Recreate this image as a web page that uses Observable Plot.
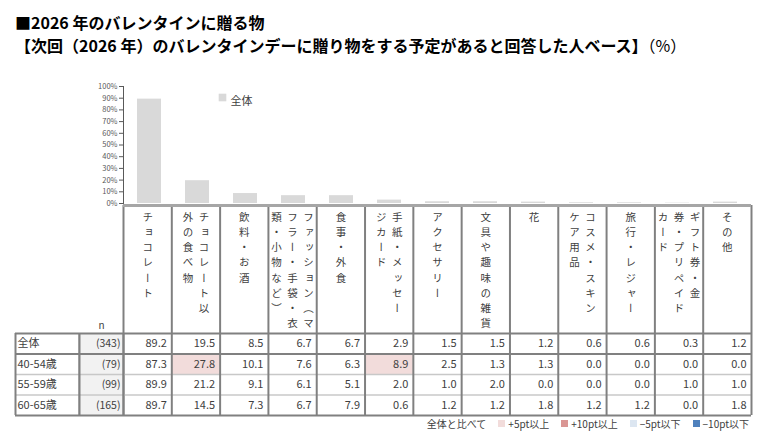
<!DOCTYPE html>
<html><head><meta charset="utf-8">
<script src="https://cdn.jsdelivr.net/npm/d3@7"></script>
<script src="https://cdn.jsdelivr.net/npm/@observablehq/plot@0.6"></script>
<style>
body{margin:0;background:#fff;font-family:"Noto Sans CJK JP","Noto Sans",sans-serif;}
#wrap{position:relative;width:763px;height:438px;overflow:hidden;background:#fff;}
.ttl{position:absolute;left:15px;font-weight:bold;font-size:16px;line-height:16px;color:#000;white-space:nowrap;}
.ttl .pct{font-weight:normal;}
.abs{position:absolute;}
.abs svg{overflow:visible;display:block;}
#legend{position:absolute;top:416px;right:14px;font-size:10px;color:#404040;display:flex;align-items:center;white-space:nowrap;}
#legend .sw{display:inline-block;width:7px;height:7px;margin:0 3px 0 12px;}
.vtext{writing-mode:vertical-rl;letter-spacing:4.7px;}
</style></head><body>
<div id="wrap">
  <div class="ttl" style="top:14px">■2026 年のバレンタインに贈る物</div>
  <div class="ttl" style="top:37px">【次回（2026 年）のバレンタインデーに贈り物をする予定があると回答した人ベース】<span class="pct">（%）</span></div>
  <div class="abs" id="bars" style="left:0;top:78px"></div>
  <div class="abs" id="header" style="left:0;top:204px"></div>
  <div class="abs" id="bodyLabel" style="left:0;top:332px"></div>
  <div class="abs" id="bodyN" style="left:79px;top:332px"></div>
  <div class="abs" id="bodyVal" style="left:123px;top:332px"></div>
  <div id="legend"></div>
</div>
<script>
// ---- data ----
const categories = ["チョコレート","チョコレート以外の食べ物","飲料・お酒","ファッション（マフラー・手袋・衣類・小物など）","食事・外食","手紙・メッセージカード","アクセサリー","文具や趣味の雑貨","花","コスメ・スキンケア用品","旅行・レジャー","ギフト券・金券・プリペイドカード","その他"];
const headerLines = [["チョコレート"],["チョコレート以","外の食べ物"],["飲料・お酒"],["ファッション（マ","フラー・手袋・衣","類・小物など）"],["食事・外食"],["手紙・メッセー","ジカード"],["アクセサリー"],["文具や趣味の雑貨"],["花"],["コスメ・スキン","ケア用品"],["旅行・レジャー"],["ギフト券・金","券・プリペイド","カード"],["その他"]];
const rows = ["全体","40-54歳","55-59歳","60-65歳"];
const nValues = [343, 79, 99, 165];
const valuesAll  = [89.2,19.5,8.5,6.7,6.7,2.9,1.5,1.5,1.2,0.6,0.6,0.3,1.2];
const values4054 = [87.3,27.8,10.1,7.6,6.3,8.9,2.5,1.3,1.3,0.0,0.0,0.0,0.0];
const values5559 = [89.9,21.2,9.1,6.1,5.1,2.0,1.0,2.0,0.0,0.0,0.0,1.0,1.0];
const values6065 = [89.7,14.5,7.3,6.7,7.9,0.6,1.2,1.2,1.8,1.2,1.2,0.0,1.8];
const yTicks = [0,10,20,30,40,50,60,70,80,90,100];
const seriesName = "全体";
const levelKeys = ["+5","+10","-5","-10"];
const levelLabels = ["+5pt以上","+10pt以上","−5pt以下","−10pt以下"];
const levelColors = ["#f2dcdb","#da9694","#dce6f1","#4f81bd"];
const highlights = [
  {row:"40-54歳", cat:"チョコレート以外の食べ物", level:"+5"},
  {row:"40-54歳", cat:"手紙・メッセージカード", level:"+5"}
];
const legendPrefix = "全体と比べて";

const FONT = '"Noto Sans CJK JP","Noto Sans",sans-serif';
const TXT = "#404040";
const DARK = "#808080";
const LIGHT = "#c8c8c8";

// ---- bar chart ----
const barData = categories.map((c,i)=>({cat:c, value:valuesAll[i]}));
const bars = Plot.plot({
  width:763, height:128, marginTop:8, marginBottom:3, marginLeft:123, marginRight:12,
  style:{fontFamily:FONT, fontSize:"7.5px", color:"#595959", background:"transparent"},
  x:{type:"band", domain:categories, paddingInner:0.5, paddingOuter:0.25, axis:null},
  y:{domain:[0,100], ticks:yTicks, tickFormat:d=>d+"%", tickSize:4, tickPadding:2, label:null, line:true},
  marks:[
    Plot.barY(barData, {x:"cat", y:"value", fill:"#d9d9d9"}),
    Plot.dot([seriesName], {frameAnchor:"top-left", dx:99, dy:11, symbol:"square", r:4.3, fill:"#d9d9d9", stroke:null}),
    Plot.text([seriesName], {frameAnchor:"top-left", dx:107, dy:11, text:d=>d, textAnchor:"start", fontSize:11, fill:TXT})
  ]
});
document.getElementById("bars").append(bars);

// ---- header row ----
const headerData = [];
headerLines.forEach((lines,i)=>lines.forEach((t,j)=>headerData.push({col:i, text:t, n:lines.length, j})));
const headerSet = new Set(headerData.map(d=>d.text));
const combos = Array.from(new Set(headerData.map(d=>d.n+"-"+d.j)));
const headerTextMarks = combos.map(k=>{
  const [n,j] = k.split("-").map(Number);
  return Plot.text(headerData.filter(d=>d.n===n && d.j===j), {
    x:d=>d.col+0.5, y:0, text:"text", dx:((n-1)/2 - j)*16, dy:6,
    textAnchor:"start", lineAnchor:"bottom", fontSize:10.5, fill:TXT
  });
});
const header = Plot.plot({
  width:763, height:130, marginTop:1, marginBottom:1, marginLeft:123, marginRight:12,
  style:{fontFamily:FONT, background:"transparent"},
  x:{domain:[0,categories.length], axis:null},
  y:{domain:[0,1], reverse:true, axis:null},
  marks:[
    Plot.ruleX(d3.range(categories.length+1), {x:d=>d, y1:0, y2:1, stroke:DARK, strokeWidth:2}),
    Plot.ruleY([0], {stroke:"#a6a6a6", strokeWidth:3}),
    ...headerTextMarks,
    Plot.text(["n"], {frameAnchor:"bottom-left", dx:-22, dy:-5, text:d=>d, textAnchor:"middle", fontSize:10, fill:TXT})
  ]
});
d3.select(header).selectAll("text")
  .filter(function(){ return headerSet.has(this.textContent); })
  .classed("vtext", true)
  .attr("writing-mode","tb-rl")
  .style("writing-mode","vertical-rl")
  .style("letter-spacing","4.7px");
document.getElementById("header").append(header);

// ---- table body ----
const rowIdx = r=>rows.indexOf(r);
const bounds = d3.range(rows.length+1);
const darkBounds = bounds.filter(b=>b===0 || b===1 || b===rows.length);
const lightBounds = bounds.filter(b=>!darkBounds.includes(b));
function hRules(){
  return [
    Plot.ruleY(lightBounds, {y:d=>d, stroke:LIGHT, strokeWidth:1.5}),
    Plot.ruleY(darkBounds, {y:d=>d, stroke:DARK, strokeWidth:2})
  ];
}
const bodyBase = {height:84, marginTop:1, marginBottom:1, style:{fontFamily:FONT, fontSize:"11px", background:"transparent"}};

const bodyLabel = Plot.plot({
  ...bodyBase, width:79, marginLeft:15, marginRight:0,
  x:{domain:[0,1], axis:null}, y:{domain:[0,rows.length], reverse:true, axis:null},
  marks:[
    Plot.text(rows, {x:0, y:(d,i)=>i+0.5, text:d=>d, dx:2, textAnchor:"start", fill:TXT, fontSize:11}),
    ...hRules(),
    Plot.ruleX([0,1], {x:d=>d, y1:0, y2:rows.length, stroke:DARK, strokeWidth:2})
  ]
});
document.getElementById("bodyLabel").append(bodyLabel);

const bodyN = Plot.plot({
  ...bodyBase, width:44, marginLeft:0, marginRight:0,
  x:{domain:[0,1], axis:null}, y:{domain:[0,rows.length], reverse:true, axis:null},
  marks:[
    Plot.rect(rows, {x1:0, x2:1, y1:(d,i)=>i, y2:(d,i)=>i+1, fill:"#f2f2f2"}),
    Plot.text(nValues, {x:1, y:(d,i)=>i+0.5, text:d=>"("+d+")", dx:-3, textAnchor:"end", fill:TXT, fontSize:10.5}),
    ...hRules(),
    Plot.ruleX([0,1], {x:d=>d, y1:0, y2:rows.length, stroke:DARK, strokeWidth:2})
  ]
});
document.getElementById("bodyN").append(bodyN);

const valueRows = [valuesAll, values4054, values5559, values6065];
const cellData = [];
valueRows.forEach((vals,r)=>vals.forEach((v,c)=>cellData.push({r, c, v})));
const bodyVal = Plot.plot({
  ...bodyBase, width:640, marginLeft:0, marginRight:12,
  x:{domain:[0,categories.length], axis:null}, y:{domain:[0,rows.length], reverse:true, axis:null},
  color:{domain:levelKeys, range:levelColors},
  marks:[
    Plot.rect(highlights, {x1:d=>categories.indexOf(d.cat), x2:d=>categories.indexOf(d.cat)+1, y1:d=>rowIdx(d.row), y2:d=>rowIdx(d.row)+1, fill:"level"}),
    Plot.text(cellData, {x:d=>d.c+1, y:d=>d.r+0.5, text:d=>d.v.toFixed(1), dx:-5, textAnchor:"end", fill:TXT, fontSize:11}),
    ...hRules(),
    Plot.ruleX(d3.range(categories.length+1), {x:d=>d, y1:0, y2:rows.length, stroke:DARK, strokeWidth:2})
  ]
});
document.getElementById("bodyVal").append(bodyVal);

// ---- bottom legend ----
const lg = d3.select("#legend");
lg.append("span").text(legendPrefix);
levelLabels.forEach((l,i)=>{
  lg.append("span").attr("class","sw").style("background",levelColors[i]);
  lg.append("span").text(l);
});
</script>
</body></html>
